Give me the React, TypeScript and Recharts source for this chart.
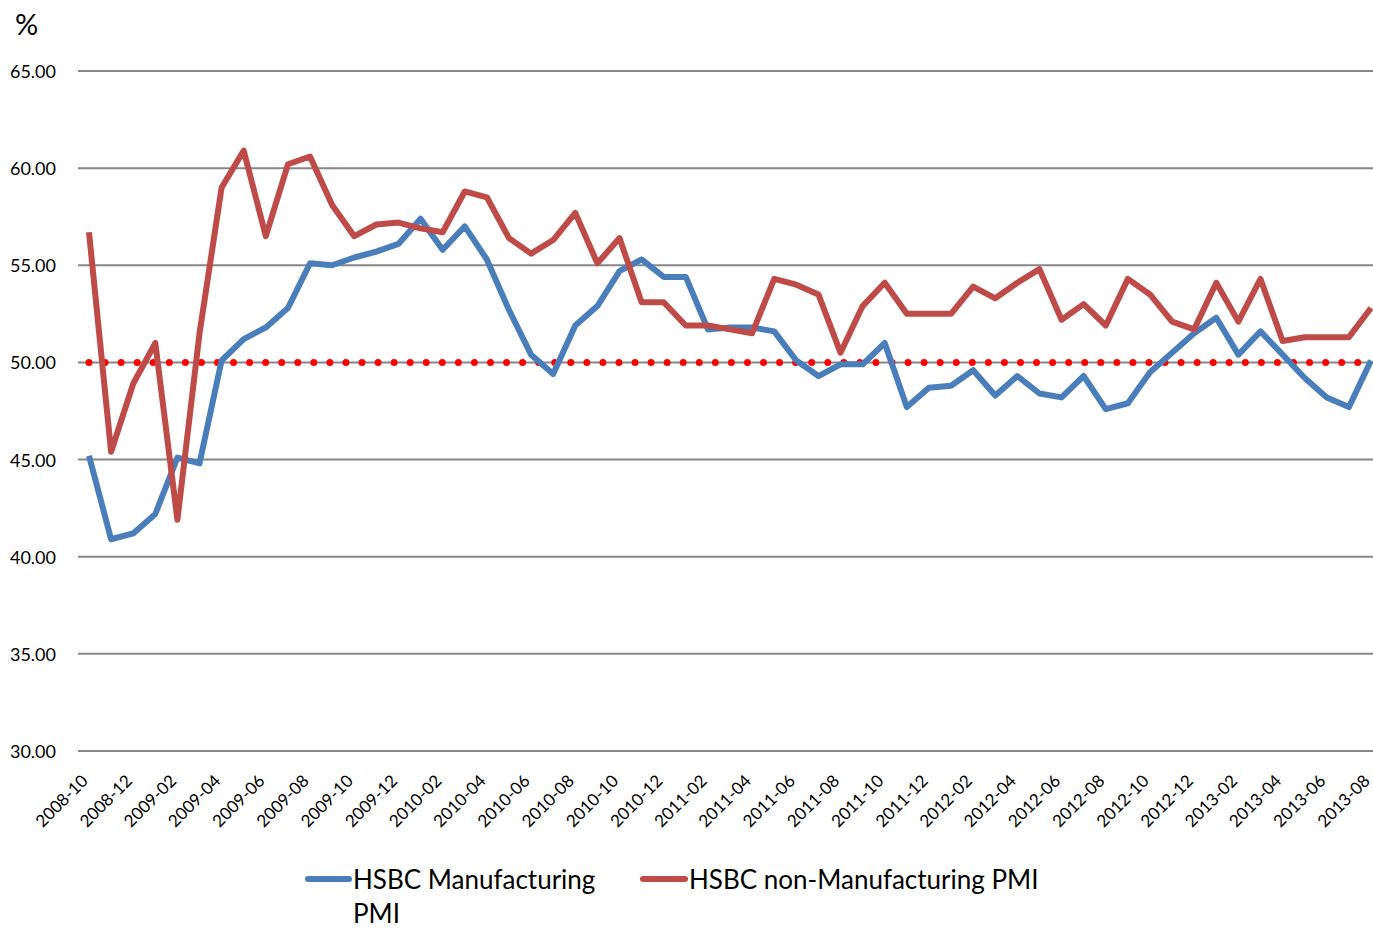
import { LineChart, Line, XAxis, YAxis, CartesianGrid, ReferenceLine } from "recharts";

const months = [
  "2008-10", "2008-11", "2008-12", "2009-01", "2009-02", "2009-03", "2009-04", "2009-05", "2009-06", "2009-07",
  "2009-08", "2009-09", "2009-10", "2009-11", "2009-12", "2010-01", "2010-02", "2010-03", "2010-04", "2010-05",
  "2010-06", "2010-07", "2010-08", "2010-09", "2010-10", "2010-11", "2010-12", "2011-01", "2011-02", "2011-03",
  "2011-04", "2011-05", "2011-06", "2011-07", "2011-08", "2011-09", "2011-10", "2011-11", "2011-12", "2012-01",
  "2012-02", "2012-03", "2012-04", "2012-05", "2012-06", "2012-07", "2012-08", "2012-09", "2012-10", "2012-11",
  "2012-12", "2013-01", "2013-02", "2013-03", "2013-04", "2013-05", "2013-06", "2013-07", "2013-08",
];

const manufacturing = [
  45.2, 40.9, 41.2, 42.2, 45.1, 44.8, 50.1, 51.2, 51.8, 52.8,
  55.1, 55.0, 55.4, 55.7, 56.1, 57.4, 55.8, 57.0, 55.3, 52.7,
  50.4, 49.4, 51.9, 52.9, 54.7, 55.3, 54.4, 54.4, 51.7, 51.8,
  51.8, 51.6, 50.1, 49.3, 49.9, 49.9, 51.0, 47.7, 48.7, 48.8,
  49.6, 48.3, 49.3, 48.4, 48.2, 49.3, 47.6, 47.9, 49.5, 50.5,
  51.5, 52.3, 50.4, 51.6, 50.4, 49.2, 48.2, 47.7, 50.1,
];

const nonManufacturing = [
  56.7, 45.4, 48.9, 51.0, 41.9, 51.5, 59.0, 60.9, 56.5, 60.2,
  60.6, 58.1, 56.5, 57.1, 57.2, 56.9, 56.7, 58.8, 58.5, 56.4,
  55.6, 56.3, 57.7, 55.1, 56.4, 53.1, 53.1, 51.9, 51.9, 51.7,
  51.5, 54.3, 54.0, 53.5, 50.5, 52.9, 54.1, 52.5, 52.5, 52.5,
  53.9, 53.3, 54.1, 54.8, 52.2, 53.0, 51.9, 54.3, 53.5, 52.1,
  51.7, 54.1, 52.1, 54.3, 51.1, 51.3, 51.3, 51.3, 52.8,
];

const yTicks = [30, 35, 40, 45, 50, 55, 60, 65];
const threshold = 50;

const seriesNames = ["HSBC Manufacturing PMI", "HSBC non-Manufacturing PMI"];
const blue = "#4a7ebb";
const red = "#be4b48";
const font = "Lato, 'Open Sans', sans-serif";

const data = months.map((m, i) => ({
  month: m,
  mfg: manufacturing[i],
  nonMfg: nonManufacturing[i],
}));

const XTick = ({ x, y, payload }: any) => (
  <g transform={`translate(${x},${y + 31})`}>
    <text textAnchor="end" transform="rotate(-45)" fontSize={17} fontFamily={font} fill="#000">
      {payload.value}
    </text>
  </g>
);

const YTick = ({ x, y, payload }: any) => (
  <text x={x - 22} y={y} textAnchor="end" dominantBaseline="central" fontSize={18} fontFamily={font} fill="#000">
    {Number(payload.value).toFixed(2)}
  </text>
);

export default function App() {
  return (
    <div style={{ position: "absolute", left: 0, top: 0, width: 1373, height: 930, background: "#fff", fontFamily: font }}>
      <div style={{ position: "absolute", left: 15, top: 9, fontSize: 29, lineHeight: "29px" }}>%</div>
      <LineChart width={1373} height={930} data={data} margin={{ top: 71, right: 0, bottom: 0, left: 0 }}>
        <CartesianGrid vertical={false} stroke="#878787" strokeWidth={2} />
        <XAxis
          dataKey="month"
          interval={1}
          height={179}
          tick={<XTick />}
          tickLine={false}
          axisLine={false}
          tickSize={0}
          tickMargin={0}
          padding={{ left: 11, right: 2 }}
        />
        <YAxis
          width={78}
          domain={[30, 65]}
          ticks={yTicks}
          tick={<YTick />}
          tickLine={false}
          axisLine={false}
          tickSize={0}
          tickMargin={0}
        />
        <ReferenceLine
          segment={[
            { x: months[0], y: threshold },
            { x: months[months.length - 1], y: threshold },
          ]}
          stroke="#ff0000"
          strokeWidth={7}
          strokeDasharray="0 16.06"
          strokeLinecap="round"
        />
        <Line
          dataKey="mfg"
          name={seriesNames[0]}
          stroke={blue}
          strokeWidth={6}
          strokeLinejoin="round"
          dot={false}
          isAnimationActive={false}
        />
        <Line
          dataKey="nonMfg"
          name={seriesNames[1]}
          stroke={red}
          strokeWidth={6}
          strokeLinejoin="round"
          dot={false}
          isAnimationActive={false}
        />
      </LineChart>
      <div style={{ position: "absolute", left: 305, top: 876, width: 47, height: 6, borderRadius: 3, background: blue }} />
      <div style={{ position: "absolute", left: 353, top: 862, width: 270, fontSize: 26, lineHeight: "34px" }}>
        {seriesNames[0]}
      </div>
      <div style={{ position: "absolute", left: 640, top: 876, width: 48, height: 6, borderRadius: 3, background: red }} />
      <div style={{ position: "absolute", left: 689, top: 862, width: 420, fontSize: 26, lineHeight: "34px" }}>
        {seriesNames[1]}
      </div>
    </div>
  );
}
